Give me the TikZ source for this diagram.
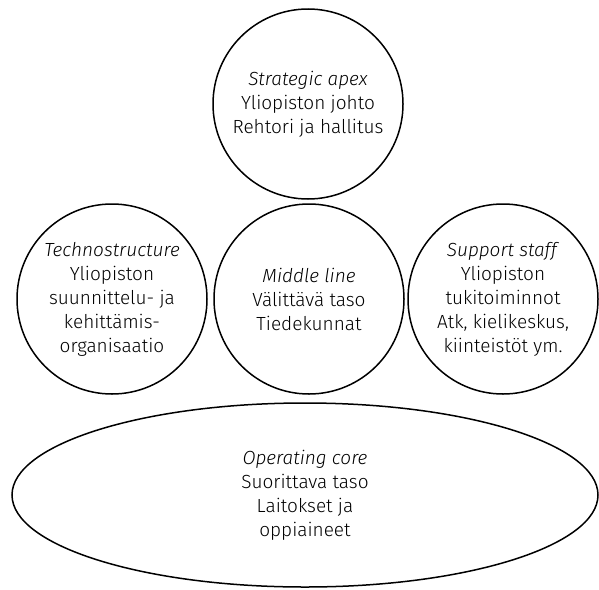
\documentclass[tikz,border=0pt]{standalone}
\usepackage{fontspec}
\setmainfont{Fira Sans}[UprightFont=* Light, ItalicFont=* Light Italic]
\usepackage{tikz}
\usetikzlibrary{shapes.geometric}

\begin{document}
\begin{tikzpicture}[x=0.5pt,y=-0.5pt]
        \tikzstyle{part} = [circle, draw, line width=0.75pt, minimum size=95pt, inner sep=0pt, align=center, font=\fontsize{9.5}{12}\selectfont]
        \tikzstyle{core} = [ellipse, draw, line width=0.75pt, minimum width=293pt, minimum height=92pt, inner sep=0pt, align=center, font=\fontsize{9.5}{12}\selectfont]
        \useasboundingbox (0,0) rectangle (599,589);

        % top of the organisation
        \node[part] (apex) at (308,104) {\textit{Strategic apex}\\Yliopiston johto\\Rehtori ja hallitus};

        % the three in the middle row
        \node[part] (techno) at (112,299) {\textit{Technostructure}\\Yliopiston\\suunnittelu- ja\\kehittämis-\\organisaatio};
        \node[part] (middle) at (309,299) {\textit{Middle line}\\Välittävä taso\\Tiedekunnat};
        \node[part] (support) at (503,299) {\textit{Support staff}\\Yliopiston\\tukitoiminnot\\Atk, kielikeskus,\\kiinteistöt ym.};

        % base
        \node[core] (core) at (305,495) {\textit{Operating core}\\Suorittava taso\\Laitokset ja\\oppiaineet};
\end{tikzpicture}
\end{document}
